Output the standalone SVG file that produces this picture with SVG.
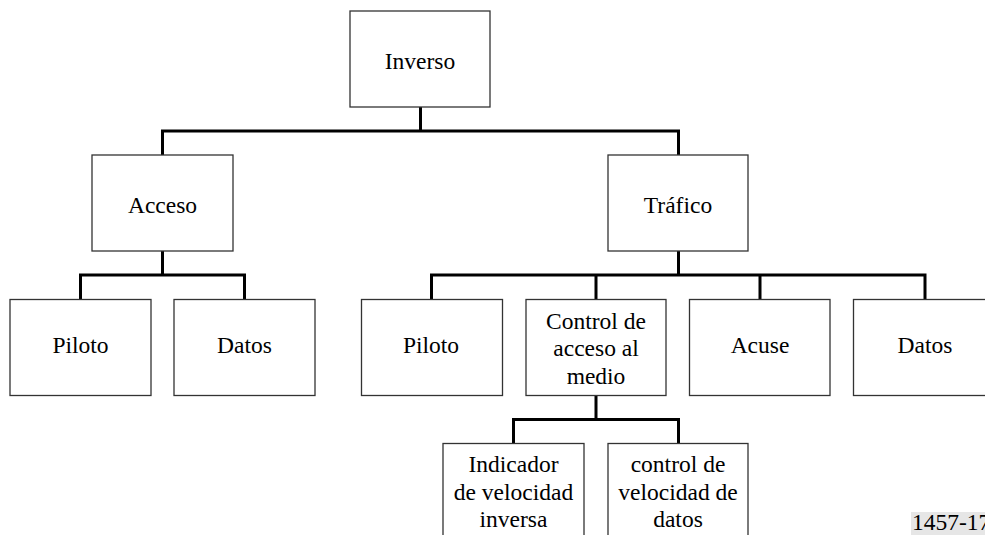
<svg xmlns="http://www.w3.org/2000/svg" width="985" height="535" viewBox="0 0 985 535">
<style>
.box{fill:#fff;stroke:#333;stroke-width:1.3}
text{font-family:'Liberation Serif','Times New Roman',Times,serif;font-size:23.5px;fill:#000}
.t{text-anchor:middle}
.conn{fill:none;stroke:#000;stroke-width:3}
</style>
<rect width="985" height="535" fill="#fff"/>
<g id="connectors" class="conn">
<path d="M420.5 107V131M162.5 131H678.5M162.5 129.5V155M678.5 129.5V155"/>
<path d="M162.5 251V275M80.5 275H244.5M80.5 273.5V299M244.5 273.5V299"/>
<path d="M678.5 251V275M431.5 275H925M431.5 273.5V299M596 273.5V299M760 273.5V299M925 273.5V299"/>
<path d="M596 395V419.5M513.5 419.5H678.5M513.5 418V443M678.5 418V443"/>
</g>
<g id="inverso"><rect class="box" x="350" y="11" width="140" height="96"/><text class="t" x="420" y="69">Inverso</text></g>
<g id="acceso"><rect class="box" x="92" y="155" width="141" height="96"/><text class="t" x="162.5" y="213">Acceso</text></g>
<g id="trafico"><rect class="box" x="608" y="155" width="140" height="96"/><text class="t" x="678" y="213">Tráfico</text></g>
<g id="piloto1"><rect class="box" x="10" y="299.5" width="141" height="96"/><text class="t" x="80.5" y="353">Piloto</text></g>
<g id="datos1"><rect class="box" x="174" y="299.5" width="141" height="96"/><text class="t" x="244.5" y="353">Datos</text></g>
<g id="piloto2"><rect class="box" x="361.5" y="299.5" width="141" height="96"/><text class="t" x="431" y="353">Piloto</text></g>
<g id="mac"><rect class="box" x="526" y="299.5" width="140" height="96"/><text class="t" x="596" y="328.5">Control de</text><text class="t" x="596" y="356">acceso al</text><text class="t" x="596" y="383.5">medio</text></g>
<g id="acuse"><rect class="box" x="689.5" y="299.5" width="140.5" height="96"/><text class="t" x="760" y="353">Acuse</text></g>
<g id="datos2"><rect class="box" x="853.5" y="299.5" width="141" height="96"/><text class="t" x="925" y="353">Datos</text></g>
<g id="indicador"><rect class="box" x="443" y="443.5" width="141" height="96"/><text class="t" x="513.5" y="472">Indicador</text><text class="t" x="513.5" y="499.5">de velocidad</text><text class="t" x="513.5" y="527">inversa</text></g>
<g id="controlvel"><rect class="box" x="608" y="443.5" width="140" height="96"/><text class="t" x="678" y="472">control de</text><text class="t" x="678" y="499.5">velocidad de</text><text class="t" x="678" y="527">datos</text></g>
<g id="label"><rect x="911" y="512" width="74" height="23" fill="#e6e6e6"/><text x="912" y="530">1457-17</text></g>
</svg>
